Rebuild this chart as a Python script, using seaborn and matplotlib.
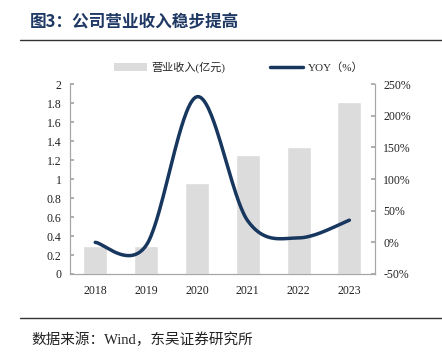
import numpy as np
import pandas as pd
import matplotlib
matplotlib.use("Agg")
import matplotlib.pyplot as plt
import seaborn as sns
from matplotlib.patches import Patch
from matplotlib.lines import Line2D
from matplotlib.ticker import FuncFormatter, MultipleLocator

# ---- data ----
years = ["2018", "2019", "2020", "2021", "2022", "2023"]
revenue = [0.29, 0.30, 0.955, 1.25, 1.34, 1.81]   # 亿元
yoy = [0, -5, 230, 34, 7, 35]                      # %

sns.set_theme(style="white")
plt.rcParams["font.family"] = ["Liberation Serif", "Noto Sans CJK SC", "DejaVu Sans"]

NAVY = "#17375e"
GREY = "#dcdcdc"
SPINE = "#a6a6a6"

fig = plt.figure(figsize=(4.42, 3.57), dpi=100)
ax = fig.add_axes([0.158, 0.2325, 0.69, 0.532])

df = pd.DataFrame({"year": years, "revenue": revenue})
sns.barplot(data=df, x="year", y="revenue", color=GREY, width=0.47,
            saturation=1, ax=ax)
ax.set_xlim(-0.5, len(years) - 0.5)
ax.set_ylim(0, 2)
ax.yaxis.set_major_locator(MultipleLocator(0.2))
ax.yaxis.set_major_formatter(FuncFormatter(lambda v, p: f"{v:g}"))
ax.set_xlabel("")
ax.set_ylabel("")

# smoothed yoy line (Excel-style bezier through the points)
ax2 = ax.twinx()
xs = np.arange(len(yoy), dtype=float)
ys = np.array(yoy, dtype=float)
px = np.concatenate([[xs[0]], xs, [xs[-1]]])
py = np.concatenate([[ys[0]], ys, [ys[-1]]])
cx, cy = [], []
t = np.linspace(0, 1, 40)
for i in range(1, len(px) - 2):
    p0 = np.array([px[i], py[i]])
    p3 = np.array([px[i + 1], py[i + 1]])
    c1 = p0 + (p3 - np.array([px[i - 1], py[i - 1]])) / 6
    c2 = p3 - (np.array([px[i + 2], py[i + 2]]) - p0) / 6
    b = ((1 - t) ** 3)[:, None] * p0 + (3 * (1 - t) ** 2 * t)[:, None] * c1 \
        + (3 * (1 - t) * t ** 2)[:, None] * c2 + (t ** 3)[:, None] * p3
    cx.extend(b[:, 0]); cy.extend(b[:, 1])
sns.lineplot(x=cx, y=cy, ax=ax2, color=NAVY, linewidth=2.5, sort=False)
ax2.set_ylim(-50, 250)
ax2.yaxis.set_major_locator(MultipleLocator(50))
ax2.yaxis.set_major_formatter(FuncFormatter(lambda v, p: f"{v:.0f}%"))
ax2.set_xlim(-0.5, len(years) - 0.5)

for a in (ax, ax2):
    a.spines["top"].set_visible(False)
    for s in ("left", "right", "bottom"):
        a.spines[s].set_color(SPINE)
        a.spines[s].set_linewidth(0.8)
    a.tick_params(labelsize=8.5, colors="#222222", length=0)
ax.tick_params(axis="y", direction="in", length=3, color=SPINE, pad=6)
ax2.tick_params(axis="y", direction="in", length=3, color=SPINE, pad=6)
ax.set_xticks(np.arange(-0.5, len(years), 1), minor=True)
ax.tick_params(axis="x", which="minor", direction="in", length=3, color=SPINE)
ax.tick_params(axis="x", which="major", length=0, pad=8)

# legend
handles = [Patch(facecolor=GREY, edgecolor="none"),
           Line2D([0], [0], color=NAVY, linewidth=2.5)]
fig.legend(handles, ["营业收入(亿元)", "YOY（%）"], loc="center",
           bbox_to_anchor=(0.54, 0.812), ncol=2, frameon=False,
           fontsize=8, handlelength=3.0, columnspacing=4, handletextpad=0.4)

# title, rules, source
fig.text(0.068, 0.938, "图3：公司营业收入稳步提高", fontsize=12, fontweight="bold",
         color="#1f3864", va="center", family=["Noto Sans CJK SC"])
fig.add_artist(Line2D([0.045, 1.0], [0.888, 0.888], color="#333333", linewidth=1.0))
fig.add_artist(Line2D([0.045, 1.0], [0.110, 0.110], color="#333333", linewidth=1.0))
fig.text(0.07, 0.048, "数据来源：Wind，东吴证券研究所", fontsize=10.5, color="#222222",
         va="center")

fig.savefig("out.png", dpi=100)
